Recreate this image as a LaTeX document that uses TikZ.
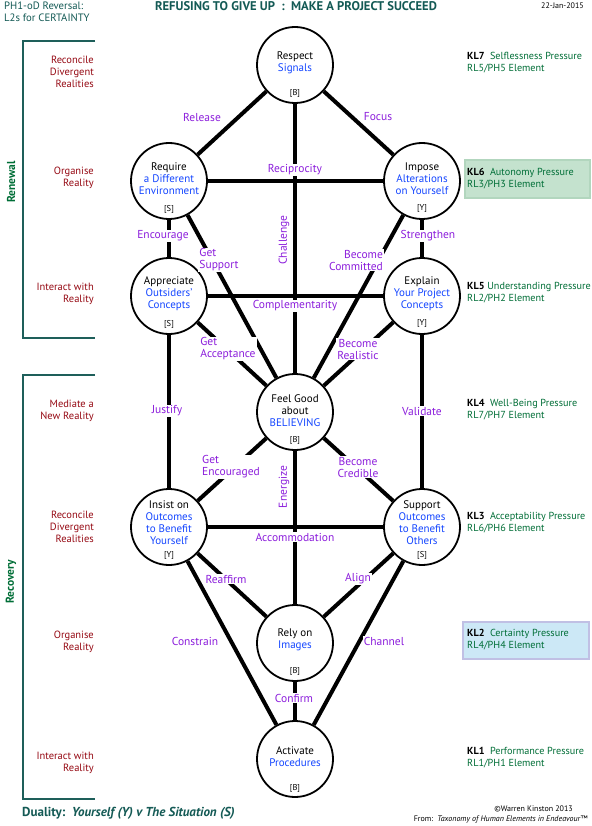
\documentclass[tikz,border=0pt]{standalone}
\usepackage{fontspec}
\setmainfont{PT Sans}
\usetikzlibrary{calc}
\definecolor{teal1}{RGB}{20,90,85}
\definecolor{brk}{RGB}{30,95,90}
\definecolor{grn}{RGB}{0,110,55}
\definecolor{dred}{RGB}{150,10,20}
\definecolor{purp}{RGB}{140,30,220}
\definecolor{blu}{RGB}{20,70,255}
\definecolor{boxg}{RGB}{196,226,206}
\definecolor{boxgb}{RGB}{178,214,190}
\definecolor{boxb}{RGB}{204,232,246}
\definecolor{boxbb}{RGB}{192,192,228}
\begin{document}
\begin{tikzpicture}[x=1pt,y=-1pt,
  circ/.style={circle, draw, line width=1.8pt, fill=white, minimum size=76pt, inner sep=0pt},
  edge/.style={line width=4pt},
  lab/.style={fill=white, inner sep=1pt, text=purp, font=\fontsize{11.5}{12}\selectfont, align=center},
  ntext/.style={align=center, font=\fontsize{11}{12}\selectfont, inner sep=0pt},
  tag/.style={font=\fontsize{8.5}{9}\selectfont, inner sep=0pt},
  leftlab/.style={anchor=east, align=right, text=dred, font=\fontsize{10.5}{12}\selectfont, inner sep=0pt},
  rightlab/.style={anchor=west, align=left, text=grn, font=\fontsize{10.2}{12}\selectfont, inner sep=0pt},
  brkline/.style={draw=brk, line width=1.8pt},
  side/.style={text=grn, font=\fontsize{11.5}{12}\selectfont\bfseries, rotate=90, inner sep=0pt}
]
\useasboundingbox (0,0) rectangle (591,826);
\fill[white] (0,0) rectangle (591,826);

% header
\node[anchor=north west, align=left, text=teal1, font=\fontsize{10.7}{11.5}\selectfont, inner sep=0pt] (hdr) at (4,2) {PH1-oD Reversal:\\L2s for CERTAINTY};
\node[text=teal1, font=\fontsize{12.6}{13}\selectfont\bfseries, inner sep=0pt] (title) at (296,6) {REFUSING TO GIVE UP\ \ :\ \ MAKE A PROJECT SUCCEED};
\node[anchor=east, font=\fontsize{8}{9}\selectfont, inner sep=0pt] (date) at (584,6) {22-Jan-2015};

% brackets
\draw[brkline] (95,41) -- (23,41) -- (23,338) -- (95,338);
\draw[brkline] (95,375) -- (23,375) -- (23,799) -- (95,799);
\node[side] (renewal) at (11,182) {Renewal};
\node[side] (recovery) at (11,582) {Recovery};

% left labels
\node[leftlab] (l1) at (94,72) {Reconcile\\Divergent\\Realities};
\node[leftlab] (l2) at (94,178) {Organise\\Reality};
\node[leftlab] (l3) at (94,294) {Interact with\\Reality};
\node[leftlab] (l4) at (94,411) {Mediate a\\New Reality};
\node[leftlab] (l5) at (94,527) {Reconcile\\Divergent\\Realities};
\node[leftlab] (l6) at (94,642) {Organise\\Reality};
\node[leftlab] (l7) at (94,763) {Interact with\\Reality};

% right boxes
\draw[fill=boxg, draw=boxgb, line width=1.5pt] (465,160) rectangle (590,198);
\draw[fill=boxb, draw=boxbb, line width=1.5pt] (463,622) rectangle (589,659);

% right labels
\node[rightlab] (k7) at (467,63) {\textcolor{black}{\textbf{KL7}}\ \ Selflessness Pressure\\RL5/PH5 Element};
\node[rightlab] (k6) at (467,179) {\textcolor{black}{\textbf{KL6}}\ \ Autonomy Pressure\\RL3/PH3 Element};
\node[rightlab] (k5) at (467,293) {\textcolor{black}{\textbf{KL5}}\ Understanding Pressure\\RL2/PH2 Element};
\node[rightlab] (k4) at (467,410) {\textcolor{black}{\textbf{KL4}}\ \ Well-Being Pressure\\RL7/PH7 Element};
\node[rightlab] (k3) at (467,523) {\textcolor{black}{\textbf{KL3}}\ \ Acceptability Pressure\\RL6/PH6 Element};
\node[rightlab] (k2) at (467,640) {\textcolor{black}{\textbf{KL2}}\ \ Certainty Pressure\\RL4/PH4 Element};
\node[rightlab] (k1) at (467,758) {\textcolor{black}{\textbf{KL1}}\ \ Performance Pressure\\RL1/PH1 Element};

% circles
\node[circ] (resp) at (295,65) {};
\node[circ] (req)  at (169,181) {};
\node[circ] (imp)  at (422,181) {};
\node[circ] (app)  at (169,296) {};
\node[circ] (expl) at (422,296) {};
\node[circ] (feel) at (295,412) {};
\node[circ] (ins)  at (169,527) {};
\node[circ] (sup)  at (422,527) {};
\node[circ] (rely) at (295,643) {};
\node[circ] (act)  at (295,759) {};

% edges
\draw[edge] (resp) -- (req);
\draw[edge] (resp) -- (imp);
\draw[edge] (resp) -- (feel);
\draw[edge] (req) -- (imp);
\draw[edge] (req) -- (app);
\draw[edge] (req) -- (feel);
\draw[edge] (imp) -- (expl);
\draw[edge] (imp) -- (feel);
\draw[edge] (app) -- (expl);
\draw[edge] (app) -- (feel);
\draw[edge] (expl) -- (feel);
\draw[edge] (app) -- (ins);
\draw[edge] (expl) -- (sup);
\draw[edge] (feel) -- (ins);
\draw[edge] (feel) -- (sup);
\draw[edge] (feel) -- (rely);
\draw[edge] (ins) -- (sup);
\draw[edge] (ins) -- (rely);
\draw[edge] (sup) -- (rely);
\draw[edge] (ins) -- (act);
\draw[edge] (sup) -- (act);
\draw[edge] (rely) -- (act);

% node texts
\node[ntext] (respT) at ($(resp)+(0,-2)$) {Respect\\\textcolor{blu}{Signals}};
\node[tag] (respB) at ($(resp)+(0,28)$) {[B]};
\node[ntext] (reqT) at ($(req)+(0,-2)$) {Require\\\textcolor{blu}{a Different}\\\textcolor{blu}{Environment}};
\node[tag] (reqB) at ($(req)+(0,28)$) {[S]};
\node[ntext] (impT) at ($(imp)+(0,-2)$) {Impose\\\textcolor{blu}{Alterations}\\\textcolor{blu}{on Yourself}};
\node[tag] (impB) at ($(imp)+(0,28)$) {[Y]};
\node[ntext] (appT) at ($(app)+(0,-2)$) {Appreciate\\\textcolor{blu}{Outsiders’}\\\textcolor{blu}{Concepts}};
\node[tag] (appB) at ($(app)+(0,28)$) {[S]};
\node[ntext] (explT) at ($(expl)+(0,-2)$) {Explain\\\textcolor{blu}{Your Project}\\\textcolor{blu}{Concepts}};
\node[tag] (explB) at ($(expl)+(0,28)$) {[Y]};
\node[ntext] (feelT) at ($(feel)+(0,-1)$) {Feel Good\\about\\\textcolor{blu}{BELIEVING}};
\node[tag] (feelB) at ($(feel)+(0,28)$) {[B]};
\node[ntext] (insT) at ($(ins)+(0,-4)$) {Insist on\\\textcolor{blu}{Outcomes}\\\textcolor{blu}{to Benefit}\\\textcolor{blu}{Yourself}};
\node[tag] (insB) at ($(ins)+(0,28)$) {[Y]};
\node[ntext] (supT) at ($(sup)+(0,-4)$) {Support\\\textcolor{blu}{Outcomes}\\\textcolor{blu}{to Benefit}\\\textcolor{blu}{Others}};
\node[tag] (supB) at ($(sup)+(0,28)$) {[S]};
\node[ntext] (relyT) at ($(rely)+(0,-3)$) {Rely on\\\textcolor{blu}{Images}};
\node[tag] (relyB) at ($(rely)+(0,28)$) {[B]};
\node[ntext] (actT) at ($(act)+(0,-2)$) {Activate\\\textcolor{blu}{Procedures}};
\node[tag] (actB) at ($(act)+(0,29)$) {[B]};

% edge labels
\node[lab] (eRelease) at (202,117) {Release};
\node[lab] (eFocus) at (378,117) {Focus};
\node[lab] (eRecip) at (295,170) {Reciprocity};
\node[lab, rotate=90] (eChall) at (284,240) {Challenge};
\node[lab] (eEnc) at (163,236) {Encourage};
\node[lab] (eStr) at (428,236) {Strengthen};
\node[lab, align=left] (eGetSup) at (219,260) {Get\\Support};
\node[lab, align=right] (eBecCom) at (356,260) {Become\\Committed};
\node[lab] (eCompl) at (295,306) {Complementarity};
\node[lab, align=left] (eGetAcc) at (228,349) {Get\\Acceptance};
\node[lab] (eBecReal) at (358,349) {Become\\Realistic};
\node[lab] (eJust) at (167,411) {Justify};
\node[lab] (eVal) at (422,411) {Validate};
\node[lab, align=left] (eGetEnc) at (231,467) {Get\\Encouraged};
\node[lab] (eBecCred) at (358,467) {Become\\Credible};
\node[lab, rotate=90] (eEnerg) at (284,487) {Energize};
\node[lab] (eAccom) at (295,537) {Accommodation};
\node[lab] (eReaff) at (226,579) {Reaffirm};
\node[lab] (eAlign) at (358,579) {Align};
\node[lab] (eConstr) at (195,641) {Constrain};
\node[lab] (eChan) at (384,641) {Channel};
\node[lab] (eConf) at (294,698) {Confirm};

% footer
\node[anchor=west, text=teal1, font=\fontsize{13}{14}\selectfont\bfseries, inner sep=0pt] (duality) at (22,813) {Duality:\ \ \textit{Yourself (Y) v The Situation (S)}};
\node[anchor=east, font=\fontsize{8}{9}\selectfont, inner sep=0pt] (copy) at (573,809) {©Warren Kinston 2013};
\node[anchor=east, font=\fontsize{8}{9}\selectfont, inner sep=0pt] (from) at (588,819) {From:\ \ \textit{Taxonomy of Human Elements in Endeavour}™};
\end{tikzpicture}
\end{document}
